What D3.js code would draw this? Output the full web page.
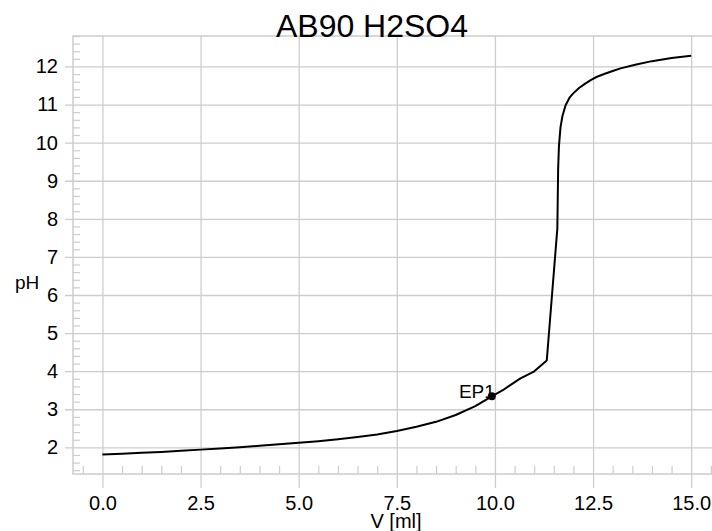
<!DOCTYPE html>
<html>
<head>
<meta charset="utf-8">
<script src="https://cdn.jsdelivr.net/npm/d3@7"></script>
<style>
  body { margin: 0; background: #fff; }
  svg { display: block; font-family: "Liberation Sans", Arial, sans-serif; }
</style>
</head>
<body>
<div id="container-chart"></div>
<script>
// titration curve
const volume = [0, 0.5, 1.0, 1.5, 2.0, 2.5, 3.0, 3.5, 4.0, 4.5, 5.0, 5.5, 6.0, 6.5, 7.0, 7.5, 8.0, 8.5, 9.0, 9.5, 9.92,
  10.2, 10.4, 10.65, 10.98, 11.32, 11.59, 11.61, 11.63, 11.67, 11.72, 11.8, 11.9, 12.0, 12.15, 12.3, 12.45, 12.6,
  12.8, 13.0, 13.2, 13.6, 14.0, 14.5, 15.0];
const pH = [1.81, 1.83, 1.86, 1.88, 1.91, 1.94, 1.97, 2.00, 2.04, 2.08, 2.12, 2.16, 2.21, 2.27, 2.34, 2.43, 2.54,
  2.67, 2.85, 3.08, 3.34, 3.5, 3.64, 3.81, 3.98, 4.28, 7.75, 9.3, 9.9, 10.4, 10.7, 10.98, 11.18, 11.3, 11.44, 11.55,
  11.65, 11.73, 11.81, 11.88, 11.95, 12.05, 12.14, 12.22, 12.28];
const endPoints = [{label: "EP1", v: 9.92, ph: 3.34}];
const xTicks = [0, 2.5, 5.0, 7.5, 10.0, 12.5, 15.0];
const yTicks = [2, 3, 4, 5, 6, 7, 8, 9, 10, 11, 12];
const xMinor = d3.range(-0.5, 15.6, 0.5).filter(v => Math.abs(v / 2.5 - Math.round(v / 2.5)) > 1e-6);
const yMinor = d3.range(1.4, 12.81, 0.2).filter(v => Math.abs(v - Math.round(v)) > 1e-6);

const W = 712, H = 531;
const mLeft = 73, mTop = 36, mRight = 712, mBottom = 474;
const grid = "#cdcdcd";

const svg = d3.select("#container-chart").append("svg")
  .attr("width", W).attr("height", H);

const x = d3.scaleLinear().domain([-0.75, 15.53]).range([mLeft, mRight]);
const y = d3.scaleLinear().domain([1.3, 12.8]).range([mBottom, mTop]);

// grid lines
svg.append("g")
  .attr("transform", "translate(0," + mTop + ")")
  .call(d3.axisBottom(x).tickValues(xTicks).tickSize(mBottom - mTop + 14).tickFormat(""))
  .call(g => g.select(".domain").remove())
  .call(g => g.selectAll("line").attr("stroke", grid).attr("stroke-width", 1.3));
svg.append("g")
  .attr("transform", "translate(" + mRight + ",0)")
  .call(d3.axisLeft(y).tickValues(yTicks).tickSize(mRight - mLeft + 8).tickFormat(""))
  .call(g => g.select(".domain").remove())
  .call(g => g.selectAll("line").attr("stroke", grid).attr("stroke-width", 1.3));

// minor ticks inside the frame
svg.append("g")
  .attr("transform", "translate(" + mLeft + ",0)")
  .call(d3.axisRight(y).tickValues(yMinor).tickSize(7).tickFormat(""))
  .call(g => g.select(".domain").remove())
  .call(g => g.selectAll("line").attr("stroke", grid).attr("stroke-width", 1.2));
svg.append("g")
  .attr("transform", "translate(0," + mBottom + ")")
  .call(d3.axisTop(x).tickValues(xMinor).tickSize(8).tickFormat(""))
  .call(g => g.select(".domain").remove())
  .call(g => g.selectAll("line").attr("stroke", grid).attr("stroke-width", 1.2));

// frame
svg.append("path")
  .attr("d", "M" + mRight + "," + mTop + "H" + mLeft + "V" + mBottom + "H" + mRight)
  .attr("fill", "none").attr("stroke", grid).attr("stroke-width", 1.5);

// tick labels
svg.append("g")
  .attr("transform", "translate(" + (mLeft - 15) + ",0)")
  .call(d3.axisLeft(y).tickValues(yTicks).tickSize(0).tickPadding(0).tickFormat(d3.format("d")))
  .call(g => g.select(".domain").remove())
  .call(g => g.selectAll("text").attr("fill", "#000").style("font-size", "20px")
    .style("font-family", "'Liberation Sans', Arial, sans-serif"));
svg.append("g")
  .attr("transform", "translate(0," + (mBottom + 22) + ")")
  .call(d3.axisBottom(x).tickValues(xTicks).tickSize(0).tickPadding(0).tickFormat(d3.format(".1f")))
  .call(g => g.select(".domain").remove())
  .call(g => g.selectAll("text").attr("fill", "#000").style("font-size", "20px")
    .style("font-family", "'Liberation Sans', Arial, sans-serif"));

// axis titles and title
svg.append("text").attr("x", 372).attr("y", 37).attr("text-anchor", "middle")
  .style("font-size", "32px").text("AB90 H2SO4");
svg.append("text").attr("x", 15).attr("y", 289)
  .style("font-size", "19px").text("pH");
svg.append("text").attr("x", 396).attr("y", 528).attr("text-anchor", "middle")
  .style("font-size", "20px").text("V [ml]");

// curve
const points = volume.map((v, i) => ({v: v, ph: pH[i]}));
svg.append("path")
  .datum(points)
  .attr("fill", "none")
  .attr("stroke", "#000")
  .attr("stroke-width", 2)
  .attr("stroke-linejoin", "round")
  .attr("d", d3.line().x(d => x(d.v)).y(d => y(d.ph)));

// end point marker
svg.selectAll(".ep").data(endPoints).join("circle")
  .attr("class", "ep")
  .attr("cx", d => x(d.v)).attr("cy", d => y(d.ph)).attr("r", 4).attr("fill", "#000");
svg.selectAll(".ep-label").data(endPoints).join("text")
  .attr("class", "ep-label")
  .attr("x", d => x(d.v) + 3).attr("y", d => y(d.ph) + 2).attr("text-anchor", "end")
  .style("font-size", "19px").text(d => d.label);
</script>
</body>
</html>
